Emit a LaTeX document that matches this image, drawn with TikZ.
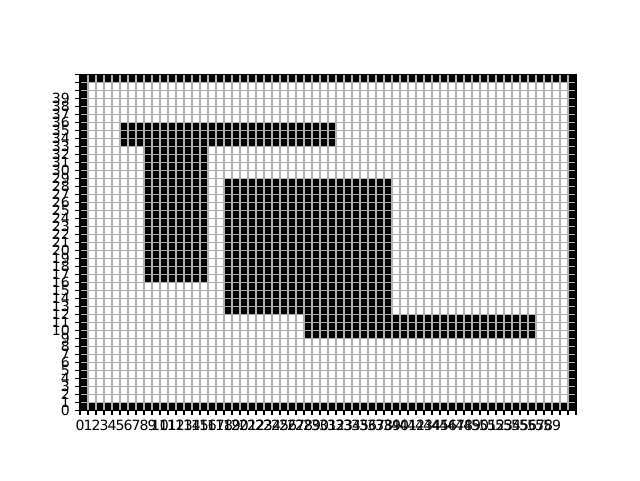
\documentclass[tikz,border=0pt]{standalone}
\usepackage{fontspec}
\setmainfont{DejaVu Sans}
\usepackage{tikz}
\usetikzlibrary{positioning}
\definecolor{gridgray}{HTML}{B0B0B0}

\begin{document}
\begin{tikzpicture}[
        x=2mm, y=2mm,
        cell/.style={fill=black},
        gridline/.style={draw=gridgray, line width=0.8pt},
        spine/.style={draw=black, line width=0.8pt},
        tickmark/.style={draw=black, line width=0.8pt},
        xlab/.style={
            anchor=north,
            inner sep=0pt,
            yshift=-7pt,
            font=\fontsize{10}{12}\selectfont
        },
        ylab/.style={
            anchor=east,
            inner sep=0pt,
            xshift=-7pt,
            font=\fontsize{10}{12}\selectfont
        }
    ]
        \useasboundingbox (-10,-8.7) rectangle (70,51.3);

        % border and free area
        \fill[black] (0,0) rectangle (62,42);
        \fill[white] (1,1) rectangle (61,41);

        % obstacles
        \fill[cell] (5,33) rectangle (32,36);
        \fill[cell] (8,16) rectangle (16,33);
        \fill[cell] (18,12) rectangle (39,29);
        \fill[cell] (28,9) rectangle (57,12);

        \draw[gridline, step=2mm] (0,0) grid (62,42);
        \draw[spine] (0,0) rectangle (62,42);

        % ticks
        \foreach \i in {0,...,62}
            \draw[tickmark] (\i,0) -- ++(0,-3.5pt);
        \foreach \j in {0,...,42}
            \draw[tickmark] (0,\j) -- ++(-3.5pt,0);

        % labels
        \foreach \i in {0,...,59}
            \node[xlab] (xl\i) at (\i,0) {\i};
        \foreach \j in {0,...,39}
            \node[ylab] (yl\j) at (0,\j) {\j};
    \end{tikzpicture}
\end{document}
